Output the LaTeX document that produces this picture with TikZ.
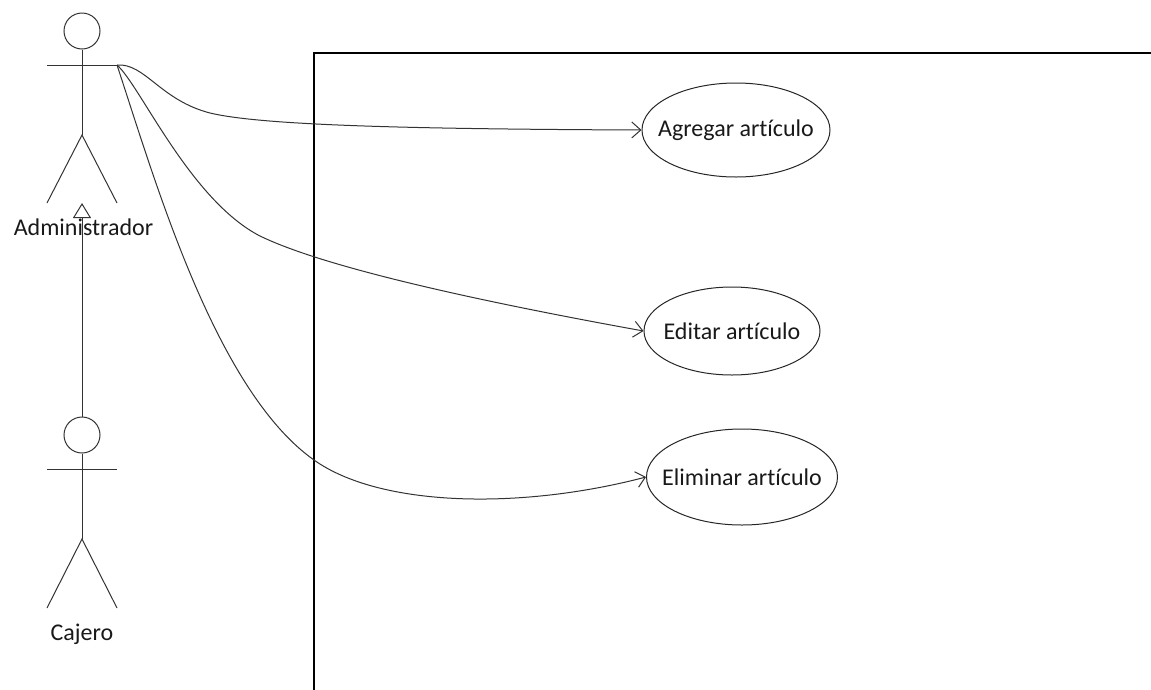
\documentclass[tikz,border=0pt]{standalone}
\usepackage{fontspec}
\setmainfont{Carlito}[Ligatures=NoCommon]
\usetikzlibrary{shapes.geometric,arrows.meta}
\begin{document}
\begin{tikzpicture}[x=1pt,y=-1pt,
  thin line/.style={draw=black!80,line width=1pt},
  head/.style={circle,draw=black!80,line width=1pt,minimum size=36pt,inner sep=0pt},
  uc/.style={ellipse,draw=black!85,line width=1pt,inner sep=0pt},
  lbl/.style={font=\fontsize{24}{28}\selectfont,text=black!90},
  assoc/.style={draw=black!80,line width=1pt,-{Straight Barb[length=9pt,width=16pt,line width=1pt]}},
  gen/.style={draw=black!80,line width=1pt,-{Triangle[open,length=15pt,width=18pt,line width=1pt]}}
]
\useasboundingbox (0,0) rectangle (1151,689);
% system boundary
\draw[line width=2.5pt] (314,700) -- (314,53) -- (1160,53);
% Administrador actor
\node[head] (admhead) at (82,31) {};
\coordinate (admhip) at (82,135);
\coordinate (ahandL) at (47,65);
\coordinate (ahand) at (117,65);
\coordinate (admlegL) at (47,203);
\coordinate (admlegR) at (117,203);
\coordinate (admfeet) at (82,203);
\draw[thin line] (admhead.south) -- (admhip);
\draw[thin line] (ahandL) -- (ahand);
\draw[thin line] (admlegL) -- (admhip) -- (admlegR);
% Cajero actor
\node[head] (cajhead) at (82,435) {};
\coordinate (cajhip) at (82,539);
\coordinate (chandL) at (47,469);
\coordinate (chandR) at (117,469);
\coordinate (cajlegL) at (47,608);
\coordinate (cajlegR) at (117,608);
\draw[thin line] (cajhead.south) -- (cajhip);
\draw[thin line] (chandL) -- (chandR);
\draw[thin line] (cajlegL) -- (cajhip) -- (cajlegR);
% generalization
\draw[gen] (cajhead.north) -- (admfeet);
% labels
\node[lbl,anchor=base] (admlbl) at (83.5,235) {Administrador};
\node[lbl,anchor=base] (cajlbl) at (82,640) {Cajero};
% use cases
\node[uc,minimum width=188pt,minimum height=94pt,label={[lbl]center:Agregar artículo}] (agregar) at (736,130) {};
\node[uc,minimum width=176pt,minimum height=88pt,label={[lbl]center:Editar artículo}] (editar) at (732,331) {};
\node[uc,minimum width=191pt,minimum height=96pt,label={[lbl]center:Eliminar artículo}] (eliminar) at (742,477) {};
% associations
\draw[assoc] (ahand) .. controls (145,63) and (160,100) .. (210,113)
  .. controls (260,125) and (400,129) .. (agregar.west);
\draw[assoc] (ahand) .. controls (140,85) and (190,200) .. (260,236)
  .. controls (330,270) and (500,305) .. (editar.west);
\draw[assoc] (ahand) .. controls (155,180) and (215,390) .. (314,460)
  .. controls (380,507) and (520,510) .. (eliminar.west);
\end{tikzpicture}
\end{document}
